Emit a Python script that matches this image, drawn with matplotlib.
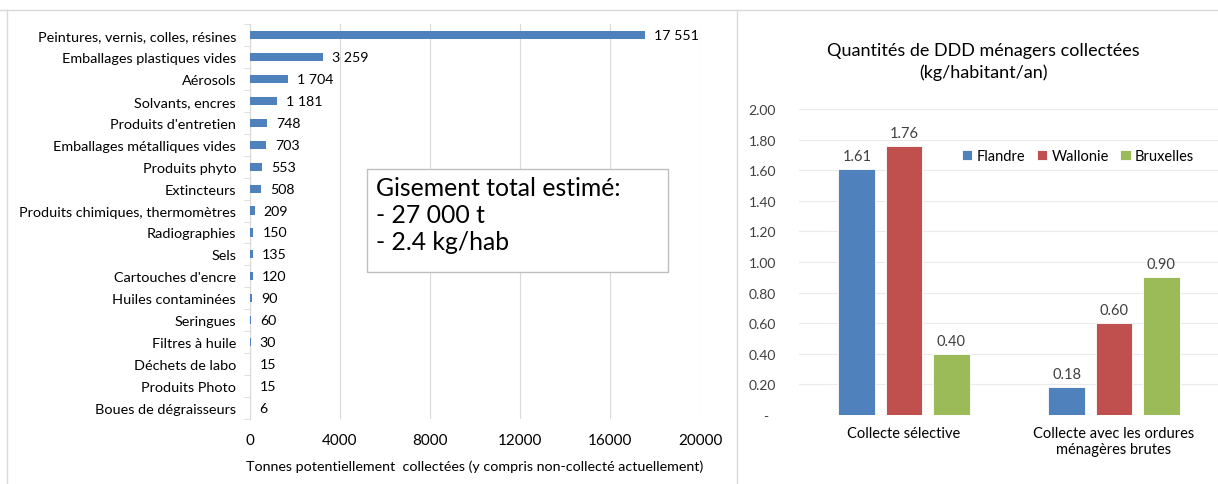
import numpy as np
import matplotlib.pyplot as plt
from matplotlib.lines import Line2D
from matplotlib.patches import Rectangle

plt.rcParams['font.family'] = ['Lato', 'DejaVu Sans']

# left panel data
categories = ['Peintures, vernis, colles, résines', 'Emballages plastiques vides', 'Aérosols',
              'Solvants, encres', "Produits d'entretien", 'Emballages métalliques vides',
              'Produits phyto', 'Extincteurs', 'Produits chimiques, thermomètres',
              'Radiographies', 'Sels', "Cartouches d'encre", 'Huiles contaminées',
              'Seringues', 'Filtres à huile', 'Déchets de labo', 'Produits Photo',
              'Boues de dégraisseurs']
tonnes = [17551, 3259, 1704, 1181, 748, 703, 553, 508, 209, 150, 135, 120, 90, 60, 30, 15, 15, 6]
x_ticks = [0, 4000, 8000, 12000, 16000, 20000]
note_lines = ['Gisement total estimé:', '- 27 000 t', '- 2.4 kg/hab']

# right panel data
groups = ['Collecte sélective', 'Collecte avec les ordures\nménagères brutes']
regions = ['Flandre', 'Wallonie', 'Bruxelles']
flandre = [1.61, 0.18]
wallonie = [1.76, 0.60]
bruxelles = [0.40, 0.90]
y_ticks = [0, 0.2, 0.4, 0.6, 0.8, 1.0, 1.2, 1.4, 1.6, 1.8, 2.0]

W, H = 1218, 485
fig = plt.figure(figsize=(W / 100, H / 100), dpi=100)
grid_c = '#D9D9D9'
txt_c = '#404040'

def fx(px):
    return px / W

def fy(py):
    return 1 - py / H

# panel borders
fig.add_artist(Line2D([0, 1], [fy(11), fy(11)], color=grid_c, lw=1))
fig.add_artist(Line2D([fx(7), fx(7)], [0, fy(11)], color=grid_c, lw=1))
fig.add_artist(Line2D([fx(737), fx(737)], [0, fy(11)], color=grid_c, lw=1))

# ---- left: horizontal bars
ax = fig.add_axes([fx(250), fy(420), fx(450), (420 - 25) / H])
y = np.arange(len(categories))
ax.barh(y, tonnes, height=0.37, color='#4F81BD', zorder=3)
for yi, v in zip(y, tonnes):
    ax.text(v + 400, yi, f'{v:,}'.replace(',', ' '), va='center', ha='left',
            fontsize=10.2, color='#000000')
ax.set_xlim(0, 20000)
ax.set_ylim(len(categories) - 0.5, -0.5)
ax.set_xticks(x_ticks)
ax.set_xticklabels([str(t) for t in x_ticks])
ax.set_yticks(y)
ax.set_yticklabels(categories)
ax.set_yticks(np.arange(-0.5, len(categories)), minor=True)
ax.tick_params(axis='y', which='major', length=0, pad=10, labelsize=10.4, labelcolor='#000000')
ax.tick_params(axis='y', which='minor', length=4, color=grid_c)
ax.tick_params(axis='x', length=0, pad=10, labelsize=11, labelcolor='#000000')
ax.grid(axis='x', color=grid_c, lw=0.8, zorder=0)
for s in ['top', 'right', 'bottom']:
    ax.spines[s].set_visible(False)
ax.spines['left'].set_color(grid_c)
ax.set_xlabel('Tonnes potentiellement  collectées (y compris non-collecté actuellement)',
              fontsize=10.3, color='#000000', labelpad=9)

# note box
fig.add_artist(Rectangle((fx(367), fy(273)), fx(668 - 367), (273 - 170) / H,
                         transform=fig.transFigure, fc='white', ec='#BFBFBF', lw=1, zorder=5))
for i, line in enumerate(note_lines):
    fig.text(fx(376), fy(189 + 27 * i), line, fontsize=17.8, va='center', ha='left',
             color='#000000', zorder=6)

# ---- right: grouped bars
ax2 = fig.add_axes([fx(799), fy(416), fx(420), (416 - 110) / H])
xg = np.arange(len(groups))
w = 0.176
off = 0.224
series = [flandre, wallonie, bruxelles]
colors = ['#4F81BD', '#C0504D', '#9BBB59']
for i, (vals, c, name) in enumerate(zip(series, colors, regions)):
    bars = ax2.bar(xg + (i - 1) * off, vals, width=w, color=c, label=name, zorder=3,
                   edgecolor='white', linewidth=0.6)
    for b, v in zip(bars, vals):
        ax2.text(b.get_x() + b.get_width() / 2, v + 0.04, f'{v:.2f}', ha='center',
                 va='bottom', fontsize=10.5, color=txt_c)
ax2.set_xlim(-0.5, 1.5)
ax2.set_ylim(0, 2.0)
ax2.set_yticks(y_ticks)
ax2.set_yticklabels(['-  '] + [f'{t:.2f}' for t in y_ticks[1:]])
ax2.set_xticks(xg)
ax2.set_xticklabels(groups)
ax2.tick_params(axis='y', length=0, pad=16.5, labelsize=10, labelcolor=txt_c)
ax2.tick_params(axis='x', length=0, pad=8, labelsize=10.5, labelcolor='#000000')
ax2.grid(axis='y', color='#EBEBEB', lw=0.8, zorder=0)
for s in ax2.spines.values():
    s.set_visible(False)

fig.text(fx(983), fy(62), 'Quantités de DDD ménagers collectées\n(kg/habitant/an)',
         ha='center', va='center', fontsize=13, linespacing=1.4, color='#000000')
ax2.legend(loc='center', bbox_to_anchor=(fx(1078), fy(157)), bbox_transform=fig.transFigure,
           ncol=3, frameon=False, fontsize=10.5, handlelength=0.7, handleheight=0.7,
           handletextpad=0.3, columnspacing=0.8, labelcolor='#000000')

fig.savefig('out.png', dpi=100)
